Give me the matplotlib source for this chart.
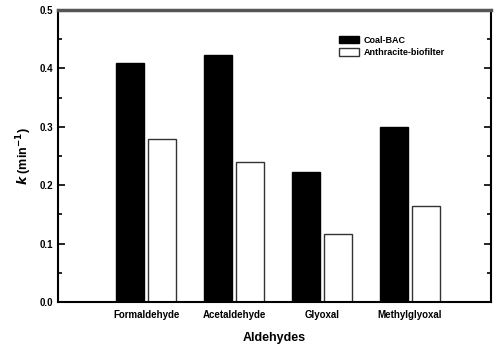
""" Rate constants of aldehyde removal in two filters.
"""

import numpy as np
import matplotlib
matplotlib.use('Agg')
import matplotlib.pyplot as plt
from matplotlib.ticker import MultipleLocator, FormatStrFormatter

aldehydes = ['Formaldehyde', 'Acetaldehyde', 'Glyoxal', 'Methylglyoxal']
coal_bac = [0.409, 0.423, 0.223, 0.300]
anthracite = [0.279, 0.240, 0.116, 0.164]

plt.rcParams['font.family'] = ['Liberation Sans', 'DejaVu Sans']
plt.rcParams['font.weight'] = 'bold'

fig = plt.figure(figsize=(4.97, 3.55), dpi=100)
ax = fig.add_axes([0.117, 0.149, 0.871, 0.823])

x = np.arange(len(aldehydes))
width = 0.32
ax.bar(x - 0.18, coal_bac, width, color='black', edgecolor='black',
       linewidth=1, label='Coal-BAC')
ax.bar(x + 0.18, anthracite, width, color='white', edgecolor='#333333',
       linewidth=1, label='Anthracite-biofilter')

ax.set_xlim(-1.0, 3.92)
ax.set_ylim(0, 0.5)
ax.set_xticks(x)
ax.set_xticklabels(aldehydes, fontsize=7)
ax.tick_params(axis='x', length=0, pad=6)
ax.yaxis.set_major_locator(MultipleLocator(0.1))
ax.yaxis.set_minor_locator(MultipleLocator(0.05))
ax.yaxis.set_major_formatter(FormatStrFormatter('%.1f'))
ax.tick_params(axis='y', which='both', direction='in', right=True,
               labelsize=7, width=1.2)
ax.tick_params(axis='y', which='major', length=5)
ax.tick_params(axis='y', which='minor', length=3)

for side in ['left', 'bottom', 'right']:
    ax.spines[side].set_linewidth(1.5)
ax.spines['top'].set_linewidth(2.5)
ax.spines['top'].set_color('#555555')

ax.set_xlabel('Aldehydes', fontsize=9, fontweight='bold', labelpad=8)
ax.set_ylabel(r'$k$ (min$^{-1}$)', fontsize=9, fontweight='bold')

ax.legend(loc='upper left', bbox_to_anchor=(0.63, 0.94), frameon=False,
          fontsize=6.5, handlelength=2.2, handleheight=0.9,
          labelspacing=0.4, handletextpad=0.5)

fig.savefig('out.png', dpi=100)
